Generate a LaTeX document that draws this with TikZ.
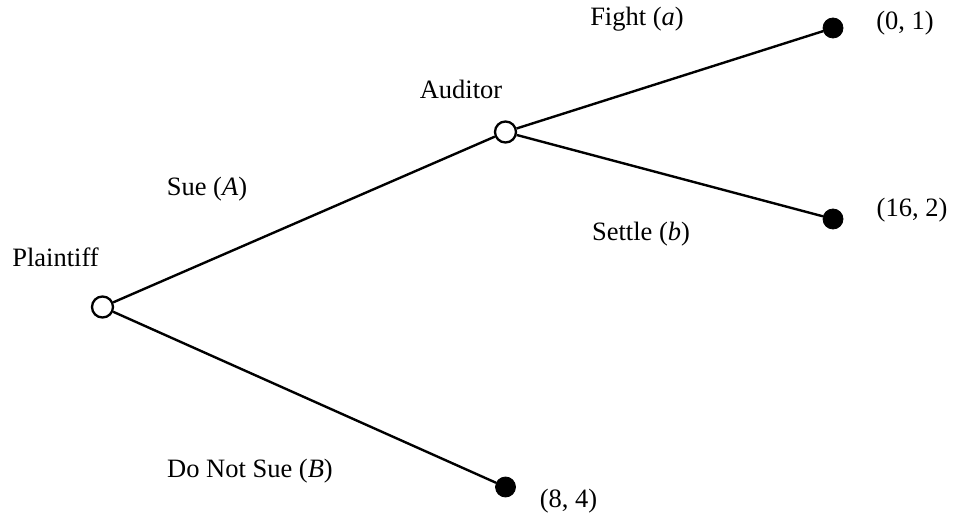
\documentclass[tikz,border=0pt]{standalone}
\usepackage{fontspec}
\setmainfont{Liberation Serif}
\begin{document}
\begin{tikzpicture}[x=1pt,y=-1pt,
  decision/.style={circle,draw,line width=2.3pt,fill=white,minimum size=21pt,inner sep=0pt},
  payoff/.style={circle,fill=black,draw=black,line width=0.8pt,minimum size=20pt,inner sep=0pt},
  branch/.style={line width=2.4pt},
  lbl/.style={anchor=base,inner sep=0pt,font=\fontsize{26.5}{32}\selectfont}]
\useasboundingbox (0,0) rectangle (953,518);

% decision nodes
\node[decision] (pl) at (102.5,307) {};
\node[decision] (au) at (505.5,132) {};

% terminal nodes
\node[payoff] (fa) at (833,28) {};
\node[payoff] (se) at (833,219) {};
\node[payoff] (ns) at (505.5,487) {};

% branches
\draw[branch] (pl) -- (au);
\draw[branch] (pl) -- (ns);
\draw[branch] (au) -- (fa);
\draw[branch] (au) -- (se);

% player names
\node[lbl] (tpl) at (55.5,267) {Plaintiff};
\node[lbl] (tau) at (461,99) {Auditor};

% action labels
\node[lbl] (tsue) at (207,196) {Sue (\textit{A})};
\node[lbl] (tnsue) at (250,477) {Do Not Sue (\textit{B})};
\node[lbl] (tfi) at (637,26) {Fight (\textit{a})};
\node[lbl] (tse) at (641,241) {Settle (\textit{b})};

% payoffs
\node[lbl] (p1) at (905,30) {(0, 1)};
\node[lbl] (p2) at (912,217) {(16, 2)};
\node[lbl] (p3) at (568.5,507) {(8, 4)};
\end{tikzpicture}
\end{document}
